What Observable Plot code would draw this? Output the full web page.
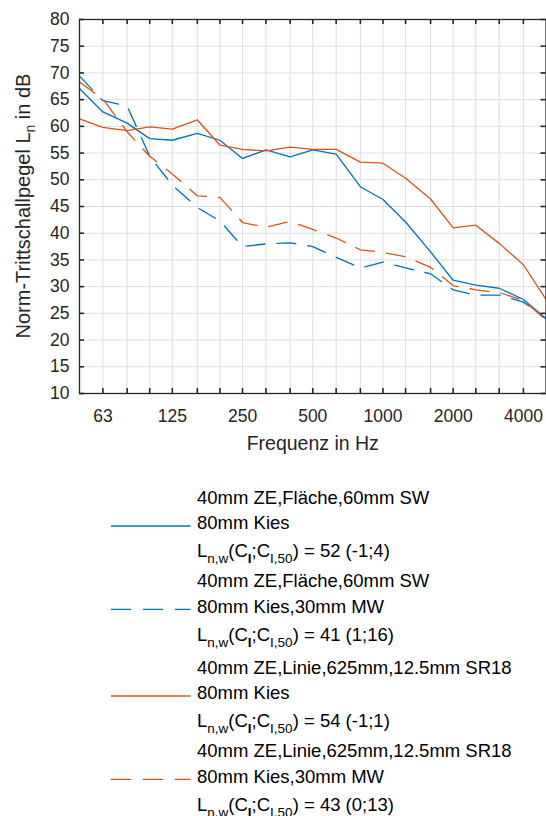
<!DOCTYPE html>
<html><head><meta charset="utf-8">
<script src="https://cdn.jsdelivr.net/npm/d3@7"></script>
<script src="https://cdn.jsdelivr.net/npm/@observablehq/plot@0.6"></script>
<style>
body{margin:0;background:#fff;}
#c{position:relative;width:546px;height:816px;overflow:hidden;font-family:"Liberation Sans",Arial,Helvetica,sans-serif;}
svg{display:block;}
</style></head><body><div id="c"></div>
<script>
// ---- data ----
const freqs = [50,63,80,100,125,160,200,250,315,400,500,630,800,1000,1250,1600,2000,2500,3150,4000,5000];
const tickFreqs = [63,125,250,500,1000,2000,4000];
const yTicks = [10,15,20,25,30,35,40,45,50,55,60,65,70,75,80];

const blueSolid    = [67.1,62.7,60.6,57.7,57.4,58.7,57.4,54.0,55.6,54.3,55.6,54.8,48.7,46.3,42.1,36.5,31.2,30.3,29.7,27.6,24.0];
const blueDashed   = [69.4,64.8,63.8,54.4,49.0,44.8,42.3,37.5,38.0,38.2,37.5,35.5,33.5,34.6,33.5,32.4,29.4,28.4,28.4,27.1,24.0];
const orangeSolid  = [61.4,59.8,59.2,59.9,59.5,61.2,56.5,55.7,55.4,56.1,55.7,55.7,53.3,53.1,50.3,46.4,41.0,41.5,38.1,34.1,27.6];
const orangeDashed = [68.3,65.1,59.0,54.4,51.1,47.0,46.7,42.0,41.1,42.2,40.7,39.1,36.9,36.4,35.6,33.6,30.2,29.4,28.9,27.4,23.8];

const seriesLine1 = ["40mm ZE,Fläche,60mm SW","40mm ZE,Fläche,60mm SW","40mm ZE,Linie,625mm,12.5mm SR18","40mm ZE,Linie,625mm,12.5mm SR18"];
const seriesLine2 = ["80mm Kies","80mm Kies,30mm MW","80mm Kies","80mm Kies,30mm MW"];
const seriesRating = ["52 (-1;4)","41 (1;16)","54 (-1;1)","43 (0;13)"];
const seriesValues = [blueSolid, blueDashed, orangeSolid, orangeDashed];
const seriesColors = ["#0072BD","#0072BD","#D95319","#D95319"];
const seriesDash = [null,"19,12",null,"19,12"];

// ---- chart ----
const W=546,H=470,mL=79,mT=19,mR=0.5,mB=77;
const pw=W-mL-mR, ph=H-mT-mB;
const axisCol="#262626", gridCol="#dedede";
const font='"Liberation Sans",Arial,Helvetica,sans-serif';

const gridFreqs = freqs.slice(1,-1);
const lineMarks = seriesValues.map((vals,i)=>{
  const d = freqs.map((f,j)=>({f, v: vals[j]}));
  const opts = {x:"f", y:"v", stroke: seriesColors[i], strokeWidth:1.3};
  if (seriesDash[i]) opts.strokeDasharray = seriesDash[i];
  return Plot.line(d, opts);
});

const chart = Plot.plot({
  width:W, height:H, marginLeft:mL, marginTop:mT, marginRight:mR, marginBottom:mB,
  style:{fontFamily:font, fontSize:"17.5px", color:axisCol, background:"#fff", overflow:"visible"},
  x:{type:"log", domain:[50,5000], axis:null},
  y:{domain:[10,80]},
  marks:[
    Plot.ruleX(gridFreqs,{x:d=>d, stroke:gridCol, strokeWidth:1}),
    Plot.ruleY(yTicks.slice(1,-1),{y:d=>d, stroke:gridCol, strokeWidth:1}),
    ...lineMarks,
    Plot.tickY(yTicks,{y:d=>d, insetRight:pw-5, stroke:axisCol, strokeWidth:1.6}),
    Plot.tickY(yTicks,{y:d=>d, insetLeft:pw-5, stroke:axisCol, strokeWidth:1.6}),
    Plot.tickX(gridFreqs,{x:d=>d, insetTop:ph-5, stroke:axisCol, strokeWidth:1.6}),
    Plot.tickX(gridFreqs,{x:d=>d, insetBottom:ph-5, stroke:axisCol, strokeWidth:1.6}),
    Plot.frame({stroke:axisCol, strokeWidth:1.3}),
    Plot.axisY({ticks:yTicks, tickSize:0, tickPadding:10, label:null, fontSize:17.5}),
    Plot.text(tickFreqs,{x:d=>d, text:d=>String(d), frameAnchor:"bottom", lineAnchor:"middle", dy:23, fontSize:17.5, fill:axisCol}),
    Plot.text(["Frequenz in Hz"],{frameAnchor:"bottom", lineAnchor:"middle", dy:50.7, fontSize:19.5, fill:axisCol})
  ]
});
document.getElementById("c").appendChild(chart);

// y-axis label with subscript
const ys = d3.select(chart);
const yl = ys.append("text")
  .attr("transform",`translate(30,${mT+ph/2}) rotate(-90)`)
  .attr("text-anchor","middle")
  .attr("fill",axisCol)
  .style("font-family",font)
  .style("font-size","20px");
yl.append("tspan").text("Norm-Trittschallpegel L");
yl.append("tspan").attr("dy",5).style("font-size","14px").text("n");
yl.append("tspan").attr("dy",-5).text(" in dB");

// ---- legend ----
const LT=470;
const leg = d3.select("#c").append("svg").attr("width",W).attr("height",816-LT)
  .style("font-family",font).style("font-size","18.5px");
const entryBase=[504,587.3,674,757.3];
const offs=[0,25.3,53.3];
seriesLine1.forEach((t,i)=>{
  const b = entryBase[i]-LT;
  const tx=197;
  leg.append("text").attr("x",tx).attr("y",b+offs[0]).attr("fill","#000").text(t);
  leg.append("text").attr("x",tx).attr("y",b+offs[1]).attr("fill","#000").text(seriesLine2[i]);
  const r = leg.append("text").attr("x",tx).attr("y",b+offs[2]).attr("fill","#000");
  r.append("tspan").text("L");
  r.append("tspan").attr("dy",6).style("font-size","13.5px").text("n,w");
  r.append("tspan").attr("dy",-6).text("(C");
  r.append("tspan").attr("dy",6).style("font-size","13.5px").style("font-weight","bold").text("I");
  r.append("tspan").attr("dy",-6).text(";C");
  r.append("tspan").attr("dy",6).style("font-size","13.5px").text("I,50");
  r.append("tspan").attr("dy",-6).text(") = "+seriesRating[i]);
  const ly = b+offs[1]-3.3;
  const ln = leg.append("line").attr("x1",111).attr("x2",190.5).attr("y1",ly).attr("y2",ly)
    .attr("stroke",seriesColors[i]).attr("stroke-width",1.3);
  if (seriesDash[i]) ln.attr("stroke-dasharray","20,12");
});
</script></body></html>
